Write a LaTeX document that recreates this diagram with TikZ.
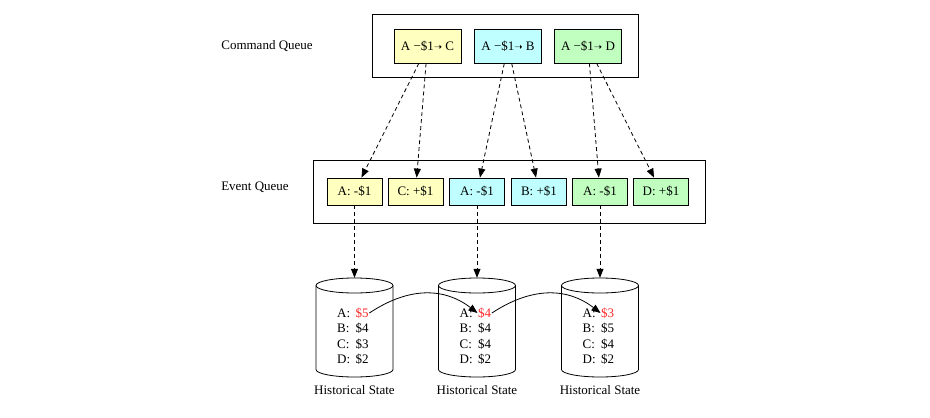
\documentclass[tikz,border=0pt]{standalone}
\usepackage{fontspec}
\setmainfont{Liberation Serif}
\newfontfamily\symfont{DejaVu Sans}
\usetikzlibrary{arrows.meta}
\definecolor{ylw}{RGB}{255,255,192}
\definecolor{cyn}{RGB}{192,255,255}
\definecolor{grn}{RGB}{192,255,192}
\definecolor{hot}{RGB}{255,40,40}
\newcommand{\tosign}{{\symfont\fontsize{10}{10}\selectfont ➝}}
\tikzset{
  cmd/.style={draw,line width=0.8pt,minimum width=67pt,minimum height=34pt,inner sep=0pt},
  evt/.style={draw,line width=0.8pt,minimum width=55pt,minimum height=27pt,inner sep=0pt},
  frame/.style={draw,line width=0.8pt,inner sep=0pt},
  store/.style={minimum width=77pt,minimum height=99pt,inner sep=0pt},
  row/.style={inner sep=0.5pt,anchor=west},
  flow/.style={-{Triangle[length=9pt,width=7pt]},dash pattern=on 4pt off 3pt,line width=0.8pt},
  hop/.style={-{Triangle[length=9pt,width=7pt]},line width=0.8pt}
}
\begin{document}
\begin{tikzpicture}[x=1pt,y=-1pt,font=\fontsize{13}{15}\selectfont]
  \useasboundingbox (0,0) rectangle (930,418);
  % queues
  \node (lc) at (267,46) {Command Queue};
  \node (le) at (255,187) {Event Queue};
  \node[frame,minimum width=266pt,minimum height=63pt] (fc) at (505,45.5) {};
  \node[frame,minimum width=392pt,minimum height=63pt] (fe) at (509,191.5) {};
  \node[cmd,fill=ylw] (c1) at (427.5,46) {A −\$1\tosign\ C};
  \node[cmd,fill=cyn] (c2) at (508,46) {A −\$1\tosign\ B};
  \node[cmd,fill=grn] (c3) at (588,46) {A −\$1\tosign\ D};
  \foreach \n/\x/\c/\t in {1/354.5/ylw/A: -\$1, 2/415.5/ylw/C: +\$1, 3/477/cyn/A: -\$1,
      4/539/cyn/B: +\$1, 5/600/grn/A: -\$1, 6/661/grn/D: +\$1}
    \node[evt,fill=\c] (e\n) at (\x,191.5) {\t};
  % stores
  \foreach \n/\x/\a/\b/\c/\d in {1/354.5/5/4/3/2, 2/477/4/4/4/2, 3/600/3/5/4/2}{
    \node[store] (h\n) at (\x,327.5) {};
    \draw[line width=0.8pt] (\x-38.5,285.5) -- (\x-38.5,369.5)
      arc[start angle=180,end angle=0,x radius=38.5,y radius=7.5] -- (\x+38.5,285.5);
    \draw[line width=0.8pt] (\x,285.5) ellipse[x radius=38.5,y radius=7.5];
    \node (s\n) at (\x,390) {Historical State};
    \node[row] (a\n) at (\x-18,313) {A:};
    \node[row] (b\n) at (\x-18,328.5) {B:};
    \node[row] (k\n) at (\x-18,344) {C:};
    \node[row] (d\n) at (\x-18,359.5) {D:};
    \node[row,text=hot] (v\n) at (\x+0.5,313) {\$\a};
    \node[row] (w\n) at (\x+0.5,328.5) {\$\b};
    \node[row] (y\n) at (\x+0.5,344) {\$\c};
    \node[row] (z\n) at (\x+0.5,359.5) {\$\d};
  }
  \draw[flow] (c1)--(e1); \draw[flow] (c1)--(e2);
  \draw[flow] (c2)--(e3); \draw[flow] (c2)--(e4);
  \draw[flow] (c3)--(e5); \draw[flow] (c3)--(e6);
  \draw[flow] (e1)--(h1); \draw[flow] (e3)--(h2); \draw[flow] (e5)--(h3);
  \draw[hop] (v1.east) .. controls (410,286) and (445,288) .. (v2.west);
  \draw[hop] (v2.east) .. controls (533,286) and (568,288) .. (v3.west);
\end{tikzpicture}
\end{document}
